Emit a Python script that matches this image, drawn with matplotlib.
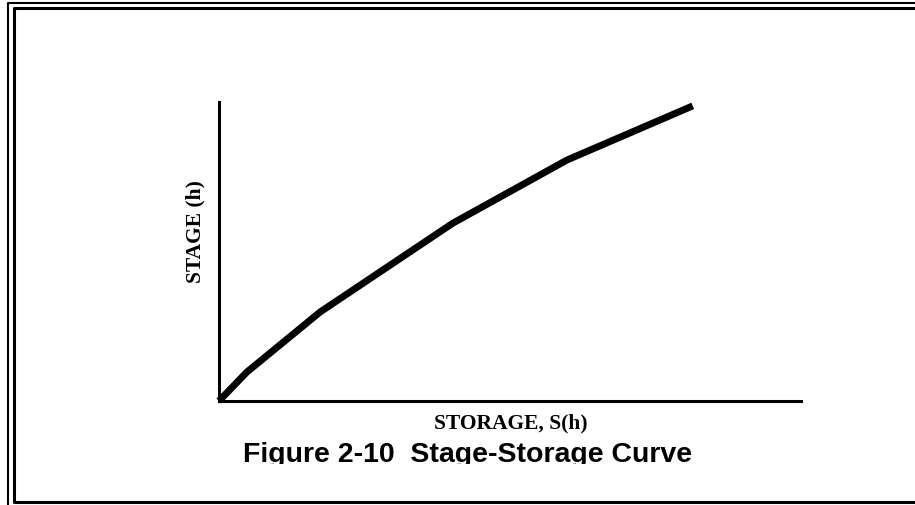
import matplotlib
matplotlib.use("Agg")
import matplotlib.pyplot as plt
from matplotlib.lines import Line2D
from matplotlib.transforms import Bbox, TransformedBbox

# Stage-storage curve (schematic, percent of axis range)
storage = [0, 4.8, 17.4, 40.2, 59.8, 81.4]
stage = [0, 9.7, 29.8, 59.5, 80.6, 98.7]

W, H = 915, 505
fig = plt.figure(figsize=(W / 100, H / 100), dpi=100)


def fx(px):
    return px / W


def fy(py):
    return 1 - py / H


ax = fig.add_axes([fx(219), fy(401), fx(801) - fx(219), fy(102) - fy(401)])
ax.plot(storage, stage, color="black", linewidth=5, solid_capstyle="butt",
        solid_joinstyle="round", clip_on=False)
ax.set_xlim(0, 100)
ax.set_ylim(0, 100)
ax.set_xticks([])
ax.set_yticks([])
for side in ["top", "right"]:
    ax.spines[side].set_visible(False)
for side in ["left", "bottom"]:
    ax.spines[side].set_linewidth(2.2)

serif = ["Liberation Serif", "DejaVu Serif"]
fig.text(fx(195), fy(232), "STAGE (h)", rotation=90, ha="center", va="center",
         fontsize=15.5, fontweight="bold", family=serif)
fig.text(fx(511), fy(428), "STORAGE, S(h)", ha="center", va="baseline",
         fontsize=15.5, fontweight="bold", family=serif)

# title is cut off just below its baseline in the original
title = fig.text(fx(467.5), fy(462), "Figure 2-10  Stage-Storage Curve",
                 ha="center", va="baseline", fontsize=20.5, fontweight="bold",
                 family=["Liberation Sans", "DejaVu Sans"])
title.set_clip_box(TransformedBbox(Bbox.from_extents(0, fy(464), 1, 1), fig.transFigure))
title.set_clip_on(True)

# double border (right and bottom run off the page)
outer = Line2D([fx(7.5), fx(7.5), fx(930)], [fy(520), fy(2.5), fy(2.5)],
               transform=fig.transFigure, color="black", linewidth=1.5)
inner = Line2D([fx(930), fx(13.5), fx(13.5), fx(930)],
               [fy(501.5), fy(501.5), fy(8), fy(8)],
               transform=fig.transFigure, color="black", linewidth=2.2)
fig.add_artist(outer)
fig.add_artist(inner)

fig.savefig("out.png", dpi=100)
